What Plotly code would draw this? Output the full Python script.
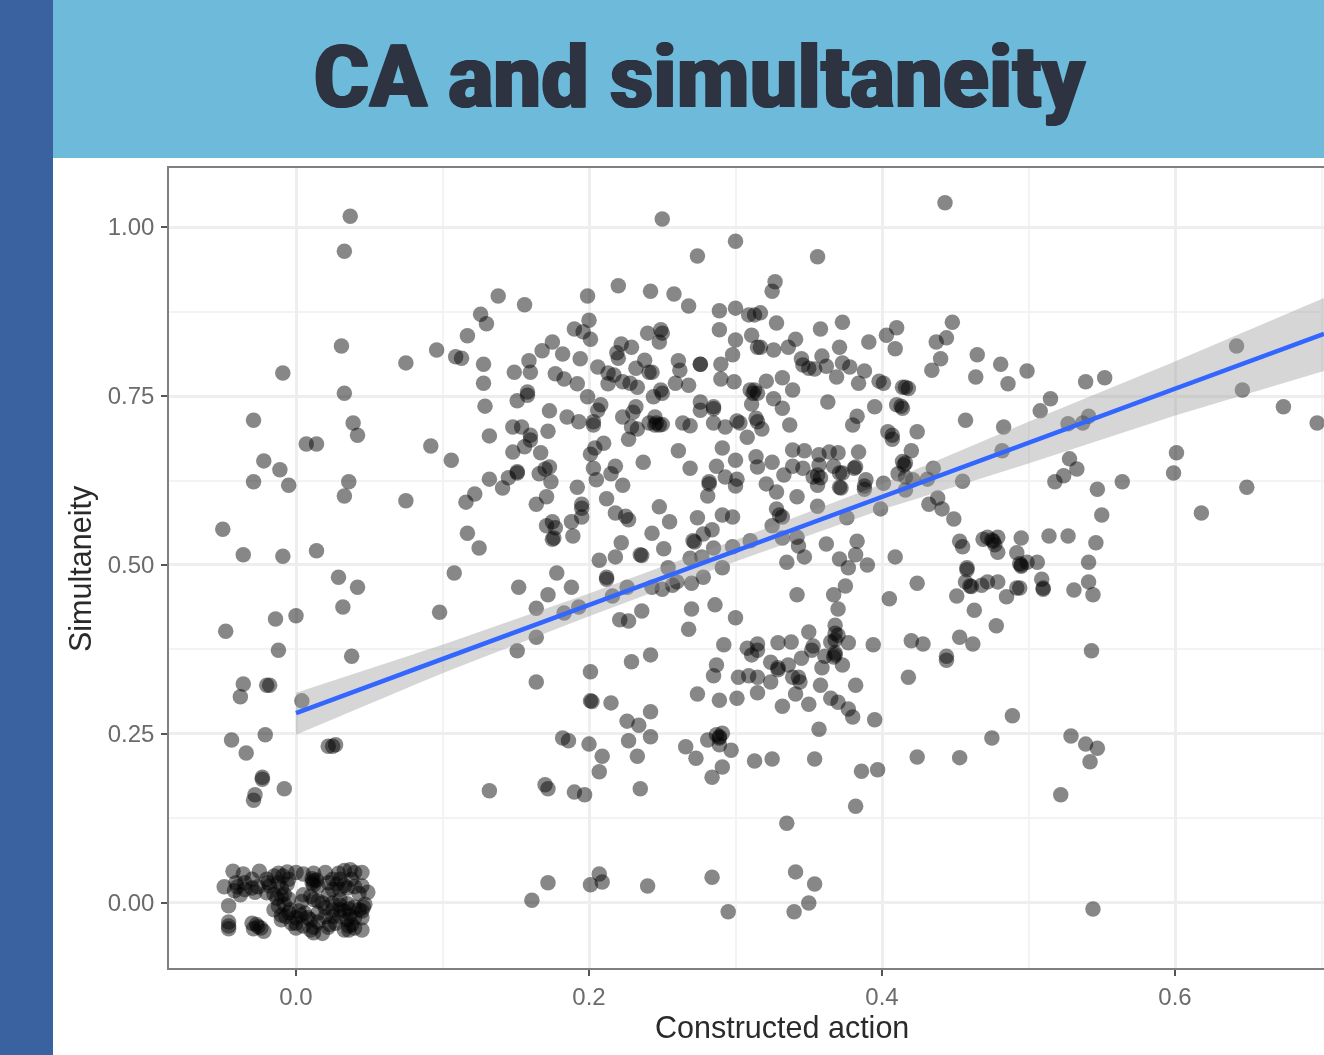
import plotly.graph_objects as go

# (Constructed action, Simultaneity)
left_points = [(.037,1.016),(.033,.964),(.031,.824),(.075,.799),(.096,.818),(.109,.808),(-.009,.784),(.033,.754),(-.029,.714),(.039,.710),(.042,.692),(.007,.679),(.014,.679),(.092,.676),(.106,.655),(-.022,.654),(-.011,.641),(-.029,.623),(-.005,.618),(.036,.623),(.033,.602),(.075,.595),(-.050,.553),(-.036,.515),(-.009,.513),(.014,.521),(.029,.482),(.042,.467),(.032,.438),(.108,.488),(.098,.430),(0,.425),(-.014,.420),(-.048,.402),(-.012,.374),(.038,.365),(-.036,.324),(-.020,.322),(-.018,.322),(-.038,.305),(.004,.299),(-.021,.249),(-.044,.241),(-.034,.222),(.022,.232),(.025,.232),(.027,.234),(-.023,.186),(-.023,.183),(-.008,.169),(-.028,.160),(-.029,.152)]

zero_points = [(-.043,.047),(-.036,.043),(-.025,.047),(-.012,.044),(-.006,.046),(0,.045),(.005,.043),(.012,.044),(.020,.045),(.029,.044),(.033,.048),(.037,.049),(.040,.045),(.045,.045),(-.015,.040),(-.009,.040),(-.005,.035),(.011,.036),(.011,.030),(.012,.033),(.014,.034),(.012,.027),(.015,.025),(-.049,.024),(-.041,.030),(-.040,.024),(-.042,.018),(-.038,.012),(-.035,.020),(-.030,.022),(-.028,.016),(-.026,.024),(-.018,.025),(-.012,.030),(-.010,.022),(-.015,.013),(-.013,.007),(-.006,.028),(.028,.028),(.033,.026),(.025,.020),(.030,.020),(.035,.022),(.040,.024),(.045,.025),(.049,.016),(.043,.014),(.015,.003),(.012,.005),(.018,0),(.010,.010),(.022,.012),(.005,.012),(.004,.002),(-.046,-.004),(-.012,-.005),(-.005,-.014),(-.010,-.018),(-.007,-.020),(.002,-.012),(.003,-.018),(.006,-.015),(0,-.022),(-.008,-.002),(.020,-.007),(.025,-.010),(.030,-.010),(.033,-.012),(.036,-.009),(.040,-.006),(.043,-.010),(.046,-.006),(.045,-.012),(.037,-.018),(.030,-.020),(-.046,-.028),(-.046,-.034),(-.046,-.038),(-.030,-.030),(-.027,-.032),(-.026,-.035),(-.024,-.037),(-.029,-.038),(-.022,-.042),(-.003,-.030),(0,-.037),(.005,-.034),(.010,-.040),(.012,-.036),(.012,-.044),(.018,-.045),(.022,-.036),(.027,-.030),(.023,-.032),(.033,-.040),(.036,-.034),(.038,-.032),(.040,-.037),(.036,-.040),(.045,-.040),
(-.020,.035),(-.019,.030),(-.030,.035),(-.035,.030),(-.020,.015),(-.010,.010),(-.005,.006),(-.008,.013),(.022,.030),(.025,.035),(.030,.035),(.038,.035),(.030,.005),(.035,-.001),(.030,-.003),(.025,0),(.020,-.020),(.025,-.020),(.015,-.015),(.015,-.028),(.010,-.025),(0,-.030),(.008,-.022),(-.010,-.025),(.040,-.022),(.045,-.022),(.035,-.025),(-.004,-.010),(-.015,-.010),(.047,-.002)]

upper_mid_points = [(.250,1.012),(.300,.979),(.274,.957),(.138,.898),(.156,.885),(.199,.898),(.220,.913),(.242,.905),(.258,.901),(.268,.883),(.126,.871),(.130,.857),(.117,.839),(.289,.876),(.300,.880),(.309,.870),(.313,.870),(.317,.873),(.289,.848),(.311,.840),(.300,.833),(.315,.822),(.298,.811),(.290,.797),(.276,.797),(.276,.797),(.261,.802),(.262,.788),(.290,.775),(.299,.771),(.259,.769),(.268,.766),(.200,.862),(.190,.849),(.196,.845),(.201,.834),(.240,.843),(.249,.848),(.250,.843),(.248,.830),(.175,.830),(.168,.817),(.182,.812),(.194,.805),(.159,.802),(.160,.785),(.149,.785),(.128,.797),(.128,.769),(.113,.806),(.177,.783),(.183,.775),(.192,.768),(.206,.793),(.222,.827),(.229,.822),(.219,.814),(.220,.806),(.238,.803),(.232,.791),(.241,.785),(.243,.785),(.213,.784),(.217,.781),(.223,.771),(.213,.768),(.228,.769),(.233,.763),(.249,.759),(.310,.759),(.313,.759),(.158,.756)]

center_points = [(.158,.751),(.151,.743),(.129,.735),(.173,.728),(.185,.719),(.193,.712),(.199,.749),(.208,.737),(.206,.729),(.203,.712),(.203,.707),(.223,.719),(.232,.734),(.230,.726),(.244,.749),(.250,.754),(.229,.704),(.233,.701),(.227,.686),(.245,.719),(.241,.710),(.246,.710),(.248,.707),(.245,.707),(.250,.708),(.264,.710),(.269,.706),(.276,.741),(.276,.729),(.285,.734),(.285,.731),(.285,.710),(.293,.704),(.301,.713),(.303,.710),(.308,.689),(.314,.717),(.315,.712),(.311,.738),(.148,.704),(.154,.704),(.172,.698),(.132,.691),(.160,.692),(.160,.685),(.156,.675),(.148,.667),(.167,.666),(.210,.680),(.204,.673),(.201,.664),(.237,.652),(.261,.669),(.269,.643),(.291,.673),(.300,.655),(.287,.646),(.314,.660),(.315,.645),(.203,.643),(.218,.646),(.215,.635),(.205,.626),(.223,.618),(.192,.615),(.173,.645),(.170,.642),(.166,.635),(.174,.623),(.151,.638),(.151,.636),(.145,.629),(.132,.627),(.141,.614),(.122,.605),(.116,.593),(.293,.630),(.282,.623),(.282,.620),(.301,.627),(.300,.617),(.281,.602),(.171,.601),(.164,.590),(.212,.598),(.195,.584),(.195,.590),(.195,.571),(.248,.586),(.218,.577),(.225,.572),(.227,.567),(.255,.564),(.274,.570),(.291,.574),(.298,.571),(.175,.564),(.171,.558),(.188,.564),(.177,.555),(.176,.540),(.175,.538),(.189,.543),(.117,.547),(.125,.525),(.243,.547),(.284,.552),(.278,.546),(.271,.536),(.272,.534),(.222,.533),(.218,.512),(.207,.507),(.235,.515),(.236,.514),(.251,.524),(.285,.525),(.269,.510),(.277,.512),(.291,.496),(.298,.527),(.310,.536),(.178,.488),(.212,.482),(.254,.496)]

lower_mid_points = [(.152,.467),(.172,.456),(.188,.467),(.212,.479),(.164,.436),(.183,.429),(.193,.438),(.216,.454),(.226,.467),(.243,.467),(.250,.464),(.257,.470),(.260,.475),(.270,.473),(.278,.482),(.270,.435),(.286,.441),(.300,.422),(.236,.432),(.221,.419),(.227,.417),(.268,.405),(.164,.393),(.151,.373),(.242,.367),(.229,.357),(.292,.382),(.308,.377),(.311,.367),(.315,.383),(.315,.374),(.201,.342),(.164,.327),(.287,.352),(.285,.336),(.302,.334),(.309,.336),(.315,.334),(.274,.309),(.289,.300),(.301,.303),(.315,.311),(.201,.299),(.202,.298),(.215,.296),(.242,.283),(.226,.269),(.234,.263),(.227,.240),(.242,.246),(.233,.217),(.182,.244),(.186,.240),(.200,.235),(.209,.217),(.207,.194),(.266,.231),(.273,.214),(.281,.241),(.287,.249),(.289,.246),(.291,.251),(.289,.244),(.289,.234),(.297,.226),(.291,.201),(.284,.186),(.313,.210),(.170,.175),(.172,.169),(.132,.166),(.190,.164),(.197,.160),(.235,.169),(.284,.038),(.172,.030),(.161,.004),(.201,.027),(.207,.043),(.209,.031),(.240,.025),(.295,-.013)]

upper_right_points = [(.443,1.036),(.356,.956),(.327,.919),(.325,.905),(.328,.858),(.373,.859),(.358,.849),(.341,.834),(.317,.822),(.326,.818),(.336,.822),(.371,.822),(.391,.830),(.403,.840),(.410,.851),(.409,.820),(.448,.859),(.444,.836),(.437,.830),(.440,.805),(.434,.788),(.465,.811),(.481,.797),(.464,.778),(.499,.787),(.486,.768),(.345,.805),(.346,.796),(.350,.791),(.354,.790),(.359,.809),(.362,.794),(.373,.799),(.378,.793),(.369,.778),(.388,.787),(.384,.769),(.398,.772),(.401,.769),(.414,.763),(.416,.763),(.418,.761),(.321,.772),(.332,.777),(.339,.759)]

right_center_points = [(.312,.754),(.315,.754),(.326,.746),(.332,.732),(.363,.741),(.395,.734),(.410,.737),(.414,.732),(.413,.735),(.337,.707),(.318,.701),(.383,.720),(.380,.707),(.457,.714),(.404,.697),(.407,.686),(.407,.692),(.424,.697),(.483,.704),(.339,.670),(.347,.669),(.325,.652),(.333,.633),(.339,.646),(.346,.643),(.357,.663),(.357,.648),(.364,.667),(.370,.666),(.384,.667),(.367,.646),(.353,.630),(.356,.633),(.358,.629),(.356,.618),(.373,.636),(.371,.636),(.382,.645),(.381,.643),(.371,.615),(.372,.614),(.321,.620),(.328,.608),(.342,.601),(.356,.587),(.389,.626),(.388,.612),(.388,.617),(.401,.621),(.420,.669),(.416,.651),(.415,.648),(.414,.653),(.411,.635),(.416,.630),(.421,.626),(.416,.611),(.435,.643),(.431,.627),(.455,.624),(.482,.669),(.438,.599),(.432,.590),(.441,.583),(.449,.568),(.399,.583),(.376,.570),(.328,.583),(.330,.574),(.332,.571),(.325,.558),(.332,.540),(.342,.541),(.343,.528),(.347,.512),(.335,.504),(.362,.531),(.383,.535),(.382,.515),(.371,.509),(.377,.496),(.390,.500),(.409,.512),(.453,.535),(.455,.527),(.458,.496),(.458,.493),(.472,.541),(.479,.541),(.469,.538),(.477,.530),(.479,.519),(.475,.537),(.476,.535),(.495,.540),(.492,.518),(.495,.500),(.495,.498),(.494,.502)]

lower_right_points = [(.375,.469),(.367,.456),(.342,.456),(.370,.435),(.368,.411),(.368,.399),(.370,.396),(.365,.386),(.377,.385),(.368,.389),(.368,.370),(.367,.364),(.368,.367),(.350,.401),(.353,.380),(.352,.374),(.329,.385),(.338,.386),(.394,.382),(.420,.388),(.428,.383),(.405,.450),(.424,.473),(.451,.454),(.460,.469),(.461,.468),(.457,.475),(.468,.470),(.472,.475),(.479,.475),(.492,.466),(.485,.453),(.463,.433),(.478,.410),(.453,.393),(.462,.383),(.444,.365),(.444,.359),(.418,.334),(.345,.362),(.336,.352),(.324,.356),(.329,.348),(.329,.345),(.324,.327),(.339,.334),(.343,.334),(.344,.327),(.359,.348),(.361,.365),(.373,.352),(.358,.322),(.382,.322),(.341,.309),(.332,.291),(.350,.294),(.365,.303),(.370,.297),(.377,.287),(.380,.275),(.395,.271),(.357,.257),(.325,.213),(.354,.213),(.386,.195),(.397,.197),(.424,.216),(.453,.215),(.475,.244),(.489,.277),(.382,.143),(.335,.118),(.341,.046),(.354,.028),(.350,0),(.340,-.013)]

far_right_points = [(.539,.771),(.552,.777),(.642,.824),(.646,.759),(.674,.734),(.697,.710),(.515,.746),(.508,.728),(.541,.720),(.537,.710),(.527,.709),(.528,.657),(.533,.642),(.524,.632),(.518,.623),(.564,.623),(.547,.612),(.550,.574),(.601,.666),(.599,.636),(.649,.615),(.618,.577),(.514,.543),(.527,.543),(.546,.533),(.541,.504),(.506,.504),(.499,.504),(.541,.475),(.544,.456),(.531,.463),(.509,.479),(.510,.466),(.510,.464),(.494,.466),(.543,.373),(.529,.247),(.539,.235),(.547,.229),(.542,.209),(.522,.160),(.544,-.009)]

fit_x = [0, .1, .2, .3, .4, .5, .6, .7017]
fit_y = [.281, .361, .441, .521, .601, .681, .761, .842]
ci_low = [.249, .340, .424, .505, .582, .650, .721, .787]
ci_high = [.311, .382, .458, .537, .620, .712, .801, .895]

x_ticks = [0, .2, .4, .6]
x_labels = ["0.0", "0.2", "0.4", "0.6"]
y_ticks = [0, .25, .5, .75, 1]
y_labels = ["0.00", "0.25", "0.50", "0.75", "1.00"]

title_text = "CA and simultaneity"
x_title = "Constructed action"
y_title = "Simultaneity"

W, H = 1324, 1055
L, R, T, B = 169, 1324, 168, 968
px = lambda v: (v - L) / (R - L)
py = lambda v: (B - v) / (B - T)

all_points = (left_points + zero_points + upper_mid_points + center_points + lower_mid_points
              + upper_right_points + right_center_points + lower_right_points + far_right_points)

fig = go.Figure()
fig.add_trace(go.Scatter(x=[p[0] for p in all_points], y=[p[1] for p in all_points], mode="markers",
                         marker=dict(size=15.5, color="rgba(0,0,0,0.47)", line=dict(width=0)),
                         showlegend=False, cliponaxis=True))
fig.add_trace(go.Scatter(x=fit_x + fit_x[::-1], y=ci_high + ci_low[::-1], mode="lines", fill="toself",
                         fillcolor="rgba(153,153,153,0.4)", line=dict(width=0), showlegend=False))
fig.add_trace(go.Scatter(x=fit_x, y=fit_y, mode="lines", line=dict(color="#3366FF", width=4.5), showlegend=False))

axis_common = dict(showline=True, linecolor="#7f7f7f", linewidth=1.5, zeroline=False,
                   ticks="outside", ticklen=6, tickwidth=2, tickcolor="#555555",
                   gridcolor="#eeeeee", gridwidth=3,
                   tickfont=dict(family="Liberation Sans", size=24, color="#6b6b6b"))

label_font = dict(family="Liberation Sans", size=30.5, color="#2a2a2a")

fig.update_layout(
    width=W, height=H, autosize=False,
    margin=dict(l=L, r=W - R, t=T, b=H - B, pad=0),
    paper_bgcolor="white", plot_bgcolor="white",
    xaxis=dict(range=[-.0867, .7017], tickvals=x_ticks, ticktext=x_labels, mirror=True,
               minor=dict(tickvals=[.1, .3, .5, .7], showgrid=True, gridcolor="#f3f3f3", gridwidth=2, ticks=""),
               **axis_common),
    yaxis=dict(range=[-.0962, 1.0873], tickvals=y_ticks, ticktext=y_labels, mirror=False,
               ticklabelstandoff=2,
               minor=dict(tickvals=[.125, .375, .625, .875], showgrid=True, gridcolor="#f3f3f3", gridwidth=2, ticks=""),
               **axis_common),
    shapes=[
        dict(type="rect", xref="paper", yref="paper", x0=px(0), x1=px(53), y0=py(H), y1=py(0),
             fillcolor="#3A62A0", line=dict(width=0), layer="below"),
        dict(type="rect", xref="paper", yref="paper", x0=px(53), x1=px(W), y0=py(158), y1=py(0),
             fillcolor="#6EBADB", line=dict(width=0), layer="below"),
    ],
    annotations=[
        dict(text=title_text, xref="paper", yref="paper", x=px(699), y=py(76), showarrow=False,
             xanchor="center", yanchor="middle",
             font=dict(family="Roboto", weight=900, size=88, color="#2D3340",
                       shadow="1px 0 0 #2D3340, -1px 0 0 #2D3340")),
        dict(text=x_title, xref="paper", yref="paper", x=px(782), y=py(1027), showarrow=False,
             xanchor="center", yanchor="middle", font=label_font),
        dict(text=y_title, xref="paper", yref="paper", x=px(80), y=py(569), showarrow=False,
             xanchor="center", yanchor="middle", textangle=-90, font=label_font),
    ],
)

post = """
document.body.style.margin='0';document.body.style.overflow='hidden';
var layer=document.querySelector('.cartesianlayer');
if(layer){layer.style.filter='blur(0.6px)';}
var t=document.querySelector('.annotation-text');
if(t){var b=t.getBBox();var s=772/b.width;var c=b.x+b.width/2;
t.setAttribute('transform','translate('+c+' 0) scale('+s+' 1) translate('+(-c)+' 0)');}
"""
fig.write_html("out.html", config={"displayModeBar": False}, post_script=post)
